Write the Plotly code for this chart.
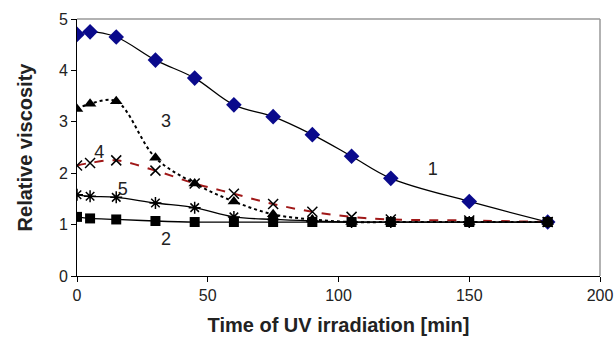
import plotly.graph_objects as go

time = [0, 5, 15, 30, 45, 60, 75, 90, 105, 120, 150, 180]
s1 = [4.7, 4.75, 4.65, 4.2, 3.85, 3.33, 3.1, 2.75, 2.33, 1.9, 1.45, 1.05]
s2 = [1.15, 1.12, 1.1, 1.07, 1.05, 1.05, 1.05, 1.05, 1.05, 1.05, 1.05, 1.05]
s3 = [3.25, 3.35, 3.4, 2.3, 1.8, 1.45, 1.2, 1.1, 1.05, 1.05, 1.05, 1.05]
s4 = [2.15, 2.2, 2.25, 2.05, 1.8, 1.6, 1.4, 1.25, 1.15, 1.1, 1.08, 1.05]
s5 = [1.58, 1.55, 1.53, 1.42, 1.33, 1.15, 1.1, 1.07, 1.05, 1.05, 1.05, 1.05]

label_text = ["1", "2", "3", "4", "5"]
label_x = [136, 34, 34, 8.5, 17.5]
label_y = [2.05, 0.7, 2.98, 2.39, 1.67]

FONT = "Liberation Sans, Arial"

fig = go.Figure()
fig.add_trace(go.Scatter(x=time, y=s1, mode="lines+markers", line=dict(color="black", width=1.3, shape="spline"),
                         marker=dict(symbol="diamond", size=12, color="#0a0a8c")))
fig.add_trace(go.Scatter(x=time, y=s4, mode="lines+markers", line=dict(color="#a01818", width=2, dash="dash", shape="spline"),
                         marker=dict(symbol="x-thin-open", size=10, color="black", line=dict(color="black", width=1.5))))
fig.add_trace(go.Scatter(x=time, y=s3, mode="lines+markers", line=dict(color="black", width=2, dash="dot", shape="spline"),
                         marker=dict(symbol="triangle-up", size=11, color="black")))
fig.add_trace(go.Scatter(x=time, y=s5, mode="lines+markers", line=dict(color="black", width=1.3, shape="spline"),
                         marker=dict(symbol="asterisk-open", size=10, color="black", line=dict(color="black", width=1.5))))
fig.add_trace(go.Scatter(x=time, y=s2, mode="lines+markers", line=dict(color="black", width=1.3, shape="spline"),
                         marker=dict(symbol="square", size=10, color="black")))
fig.add_trace(go.Scatter(x=label_x, y=label_y, mode="text", text=label_text,
                         textfont=dict(family=FONT, size=18, color="#222")))

fig.update_layout(
    width=616, height=342, showlegend=False,
    margin=dict(l=77, r=16, t=19, b=66),
    plot_bgcolor="white", paper_bgcolor="white",
    font=dict(family=FONT, color="#222"),
    xaxis=dict(range=[0, 200], tickvals=[0, 50, 100, 150, 200], showgrid=False, zeroline=False,
               showline=True, linecolor="black", linewidth=1, ticks="outside", ticklen=5, tickcolor="black",
               tickfont=dict(size=16), automargin=False,
               title=dict(text="<b>Time of UV irradiation [min]</b>", font=dict(size=20), standoff=14)),
    yaxis=dict(range=[0, 5], tickvals=[0, 1, 2, 3, 4, 5], showgrid=False, zeroline=False,
               showline=True, linecolor="black", linewidth=1, ticks="outside", ticklen=5, tickcolor="black",
               tickfont=dict(size=16), automargin=False,
               title=dict(text="<b>Relative viscosity</b>", font=dict(size=20), standoff=20)),
    shapes=[
        dict(type="line", xref="paper", yref="paper", x0=0, x1=1, y0=1, y1=1, line=dict(color="#999", width=1.5)),
        dict(type="line", xref="paper", yref="paper", x0=1, x1=1, y0=0, y1=1, line=dict(color="#999", width=1.5)),
    ],
)
fig.write_html("out.html")
